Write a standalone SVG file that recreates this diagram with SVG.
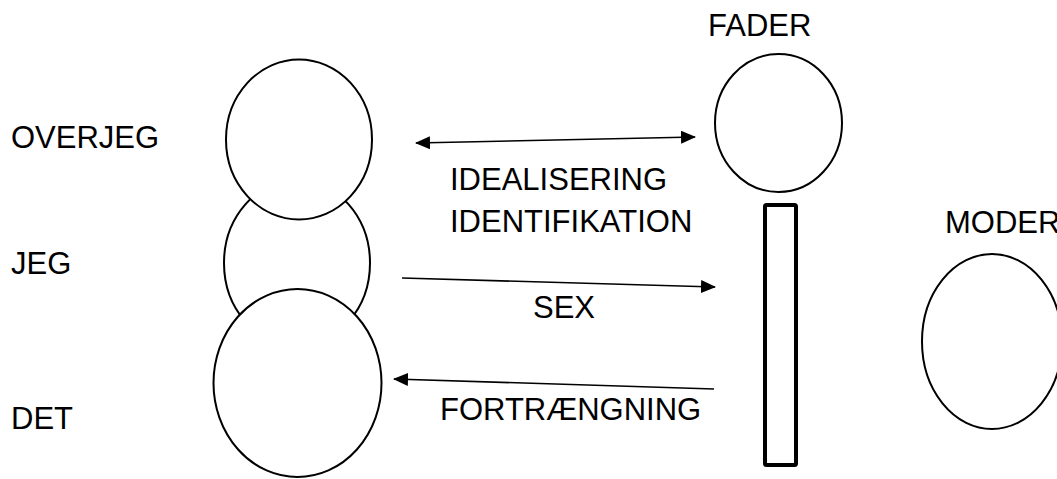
<svg xmlns="http://www.w3.org/2000/svg" width="1057" height="479" viewBox="0 0 1057 479">
  <style>
    .shape { fill: #ffffff; stroke: #000000; stroke-width: 2; }
    .bar { fill: #ffffff; stroke: #000000; stroke-width: 4; }
    .lbl { font-family: "Liberation Sans", Arial, sans-serif; font-size: 31px; fill: #000000; }
    .conn { stroke: #000000; stroke-width: 1.6; fill: none; }
  </style>
  <defs>
    <marker id="ah" viewBox="0 0 15 13" refX="14" refY="6.5" markerWidth="15" markerHeight="13" markerUnits="userSpaceOnUse" orient="auto-start-reverse">
      <path d="M0,0 L15,6.5 L0,13 Z" fill="#000000"/>
    </marker>
  </defs>
  <rect width="1057" height="479" fill="#ffffff"/>

  <g id="jeg">
    <ellipse class="shape" cx="297" cy="263" rx="73" ry="83"/>
  </g>
  <g id="overjeg">
    <ellipse class="shape" cx="299" cy="139.5" rx="73" ry="80"/>
  </g>
  <g id="det">
    <ellipse class="shape" cx="297.5" cy="383" rx="84" ry="94"/>
  </g>
  <g id="fader">
    <ellipse class="shape" cx="778.5" cy="123" rx="63.5" ry="69"/>
  </g>
  <g id="bar">
    <rect class="bar" x="765" y="205" width="31" height="260" rx="1.5"/>
  </g>
  <g id="moder">
    <ellipse class="shape" cx="992" cy="341.5" rx="70" ry="87.5"/>
  </g>

  <g id="labels">
    <text class="lbl" x="11" y="148">OVERJEG</text>
    <text class="lbl" x="11" y="274">JEG</text>
    <text class="lbl" x="11" y="429">DET</text>
    <text class="lbl" x="708" y="36">FADER</text>
    <text class="lbl" x="945" y="233">MODER</text>
    <text class="lbl" x="450" y="190">IDEALISERING</text>
    <text class="lbl" x="450" y="232">IDENTIFIKATION</text>
    <text class="lbl" x="533" y="318">SEX</text>
    <text class="lbl" x="440" y="420">FORTRÆNGNING</text>
  </g>

  <g id="connectors">
    <line class="conn" x1="416" y1="143" x2="695" y2="137" marker-start="url(#ah)" marker-end="url(#ah)"/>
    <line class="conn" x1="402" y1="278" x2="715" y2="287" marker-end="url(#ah)"/>
    <line class="conn" x1="714" y1="389" x2="394" y2="379" marker-end="url(#ah)"/>
  </g>
</svg>
